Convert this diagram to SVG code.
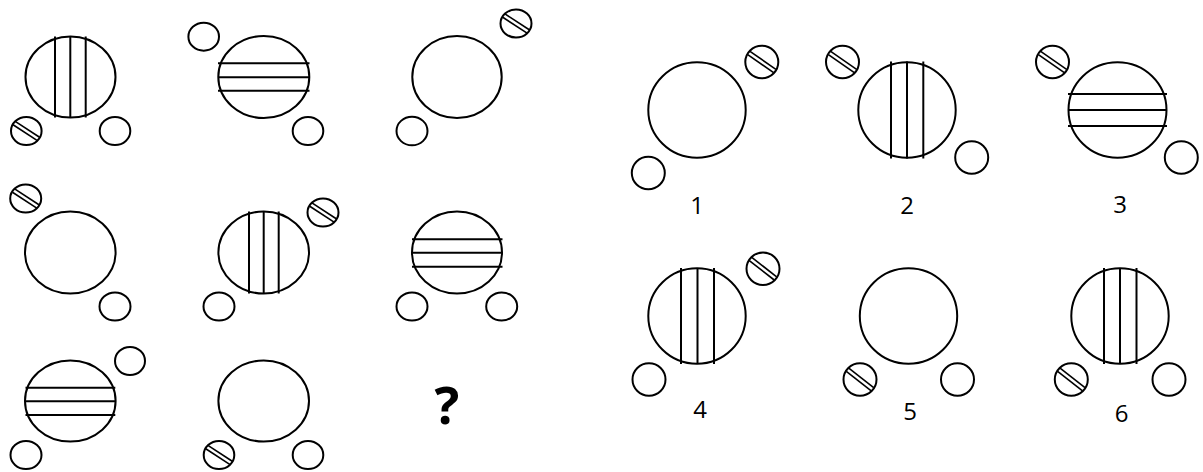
<svg xmlns="http://www.w3.org/2000/svg" width="1203" height="472" viewBox="0 0 1203 472">
<style>
.o{fill:none;stroke:#000;stroke-width:2}
.l{stroke:#000;stroke-width:2}
.h{stroke:#000;stroke-width:1.6}
.t{font-family:"Open Sans","Liberation Sans",sans-serif;font-size:24px;fill:#000;text-anchor:middle}
.q{font-family:"Open Sans","Liberation Sans",sans-serif;font-size:52px;font-weight:bold;fill:#000;text-anchor:middle}
</style>
<rect width="1203" height="472" fill="#fff"/>
<defs>
<g id="hatch"><line class="h" x1="-14.5" y1="-2" x2="14.5" y2="-2"/><line class="h" x1="-14.5" y1="2" x2="14.5" y2="2"/></g>
<g id="hatchL"><line class="h" x1="-15.8" y1="-2" x2="15.8" y2="-2"/><line class="h" x1="-15.8" y1="2" x2="15.8" y2="2"/></g>
</defs>

<g id="p1">
<ellipse class="o" cx="70.5" cy="77" rx="45" ry="40.5"/>
<line class="l" x1="55" y1="36.5" x2="55" y2="117.5"/><line class="l" x1="70.3" y1="36.5" x2="70.3" y2="117.5"/><line class="l" x1="85.7" y1="36.5" x2="85.7" y2="117.5"/>
<ellipse class="o" cx="26.3" cy="131" rx="15.3" ry="14"/><use href="#hatch" transform="translate(26.3,131) rotate(33)"/>
<ellipse class="o" cx="115" cy="131" rx="15.3" ry="14"/>
</g>

<g id="p2">
<ellipse class="o" cx="203.7" cy="36.7" rx="15.3" ry="14"/>
<ellipse class="o" cx="263.8" cy="77" rx="45.5" ry="41"/>
<line class="l" x1="218" y1="63.3" x2="309.5" y2="63.3"/><line class="l" x1="218" y1="77.3" x2="309.5" y2="77.3" stroke="#444"/><line class="l" x1="218" y1="90.7" x2="309.5" y2="90.7"/>
<ellipse class="o" cx="308" cy="131" rx="15.3" ry="14"/>
</g>

<g id="p3">
<ellipse class="o" cx="516" cy="23.5" rx="15.5" ry="14"/><use href="#hatch" transform="translate(516,23.5) rotate(33)"/>
<ellipse class="o" cx="457" cy="77" rx="44.7" ry="41"/>
<ellipse class="o" cx="412" cy="131" rx="15.5" ry="14.3"/>
</g>

<g id="p4">
<ellipse class="o" cx="25.7" cy="198.5" rx="15.5" ry="14"/><use href="#hatch" transform="translate(25.7,198.5) rotate(33)"/>
<ellipse class="o" cx="70.3" cy="252.5" rx="45.3" ry="41"/>
<ellipse class="o" cx="115" cy="306.5" rx="15.5" ry="14"/>
</g>

<g id="p5">
<ellipse class="o" cx="263.7" cy="252.5" rx="45.3" ry="41"/>
<line class="l" x1="249" y1="211.5" x2="249" y2="293.5"/><line class="l" x1="263.7" y1="211.5" x2="263.7" y2="293.5"/><line class="l" x1="278.7" y1="211.5" x2="278.7" y2="293.5"/>
<ellipse class="o" cx="323" cy="212.5" rx="15.5" ry="14"/><use href="#hatch" transform="translate(323,212.5) rotate(33)"/>
<ellipse class="o" cx="219" cy="306.5" rx="15.5" ry="14"/>
</g>

<g id="p6">
<ellipse class="o" cx="457" cy="252.5" rx="45" ry="41"/>
<line class="l" x1="412" y1="239.3" x2="502.5" y2="239.3"/><line class="l" x1="412" y1="252.7" x2="502.5" y2="252.7"/><line class="l" x1="412" y1="266.7" x2="502.5" y2="266.7"/>
<ellipse class="o" cx="412" cy="306.5" rx="15.5" ry="14"/>
<ellipse class="o" cx="501.7" cy="306.5" rx="15.5" ry="14"/>
</g>

<g id="p7">
<ellipse class="o" cx="130" cy="361" rx="15" ry="14"/>
<ellipse class="o" cx="70.3" cy="401" rx="45.3" ry="40.5"/>
<line class="l" x1="25.5" y1="387.7" x2="115.3" y2="387.7"/><line class="l" x1="25.5" y1="401.3" x2="115.3" y2="401.3" stroke="#444"/><line class="l" x1="25.5" y1="415" x2="115.3" y2="415"/>
<ellipse class="o" cx="26" cy="455" rx="15.5" ry="14"/>
</g>

<g id="p8">
<ellipse class="o" cx="263.7" cy="401" rx="45.3" ry="40.5"/>
<ellipse class="o" cx="219" cy="455" rx="15.3" ry="14"/><use href="#hatch" transform="translate(219,455) rotate(33)"/>
<ellipse class="o" cx="308" cy="455" rx="15.3" ry="14"/>
</g>

<g id="q"><text class="q" x="447" y="424">?</text></g>

<g id="a1">
<ellipse class="o" cx="697" cy="110" rx="48.7" ry="47.7"/>
<ellipse class="o" cx="761.8" cy="62" rx="16.5" ry="16.3"/><use href="#hatchL" transform="translate(761.8,62) rotate(35)"/>
<ellipse class="o" cx="648.3" cy="173" rx="16.5" ry="16.3"/>
<text class="t" x="697" y="214">1</text>
</g>

<g id="a2">
<ellipse class="o" cx="842.5" cy="62" rx="16.5" ry="16.3"/><use href="#hatchL" transform="translate(842.5,62) rotate(35)"/>
<ellipse class="o" cx="907" cy="110" rx="48.7" ry="47.7"/>
<line class="l" x1="891" y1="61.5" x2="891" y2="158.5"/><line class="l" x1="907" y1="61.5" x2="907" y2="158.5"/><line class="l" x1="923.3" y1="61.5" x2="923.3" y2="158.5"/>
<ellipse class="o" cx="971.7" cy="157.5" rx="16.5" ry="16.3"/>
<text class="t" x="907" y="214">2</text>
</g>

<g id="a3">
<ellipse class="o" cx="1052.5" cy="62" rx="16.5" ry="16.3"/><use href="#hatchL" transform="translate(1052.5,62) rotate(35)"/>
<ellipse class="o" cx="1117.5" cy="110" rx="49" ry="47.7"/>
<line class="l" x1="1068" y1="94" x2="1167" y2="94"/><line class="l" x1="1068" y1="110" x2="1167" y2="110"/><line class="l" x1="1068" y1="126" x2="1167" y2="126"/>
<ellipse class="o" cx="1181.3" cy="157.5" rx="16.5" ry="16.3"/>
<text class="t" x="1120" y="213">3</text>
</g>

<g id="a4">
<ellipse class="o" cx="697" cy="316" rx="48.7" ry="47.8"/>
<line class="l" x1="681" y1="268" x2="681" y2="364"/><line class="l" x1="697.5" y1="268" x2="697.5" y2="364"/><line class="l" x1="714" y1="268" x2="714" y2="364"/>
<ellipse class="o" cx="763" cy="268.7" rx="16.5" ry="16.3"/><use href="#hatchL" transform="translate(763,268.7) rotate(38)"/>
<ellipse class="o" cx="649" cy="379.5" rx="16.5" ry="16.3"/>
<text class="t" x="700" y="418">4</text>
</g>

<g id="a5">
<ellipse class="o" cx="908.5" cy="316" rx="48.7" ry="47.8"/>
<ellipse class="o" cx="860" cy="379.5" rx="16.5" ry="16.3"/><use href="#hatchL" transform="translate(860,379.5) rotate(38)"/>
<ellipse class="o" cx="957.5" cy="379.5" rx="16.5" ry="16.3"/>
<text class="t" x="910" y="420">5</text>
</g>

<g id="a6">
<ellipse class="o" cx="1120" cy="316" rx="48.7" ry="47.8"/>
<line class="l" x1="1104" y1="268" x2="1104" y2="364"/><line class="l" x1="1120" y1="268" x2="1120" y2="364"/><line class="l" x1="1136.5" y1="268" x2="1136.5" y2="364"/>
<ellipse class="o" cx="1071.3" cy="379.5" rx="16.5" ry="16.3"/><use href="#hatchL" transform="translate(1071.3,379.5) rotate(38)"/>
<ellipse class="o" cx="1169" cy="379.5" rx="16.5" ry="16.3"/>
<text class="t" x="1121.5" y="422">6</text>
</g>

<g id="connectors"/>
</svg>
